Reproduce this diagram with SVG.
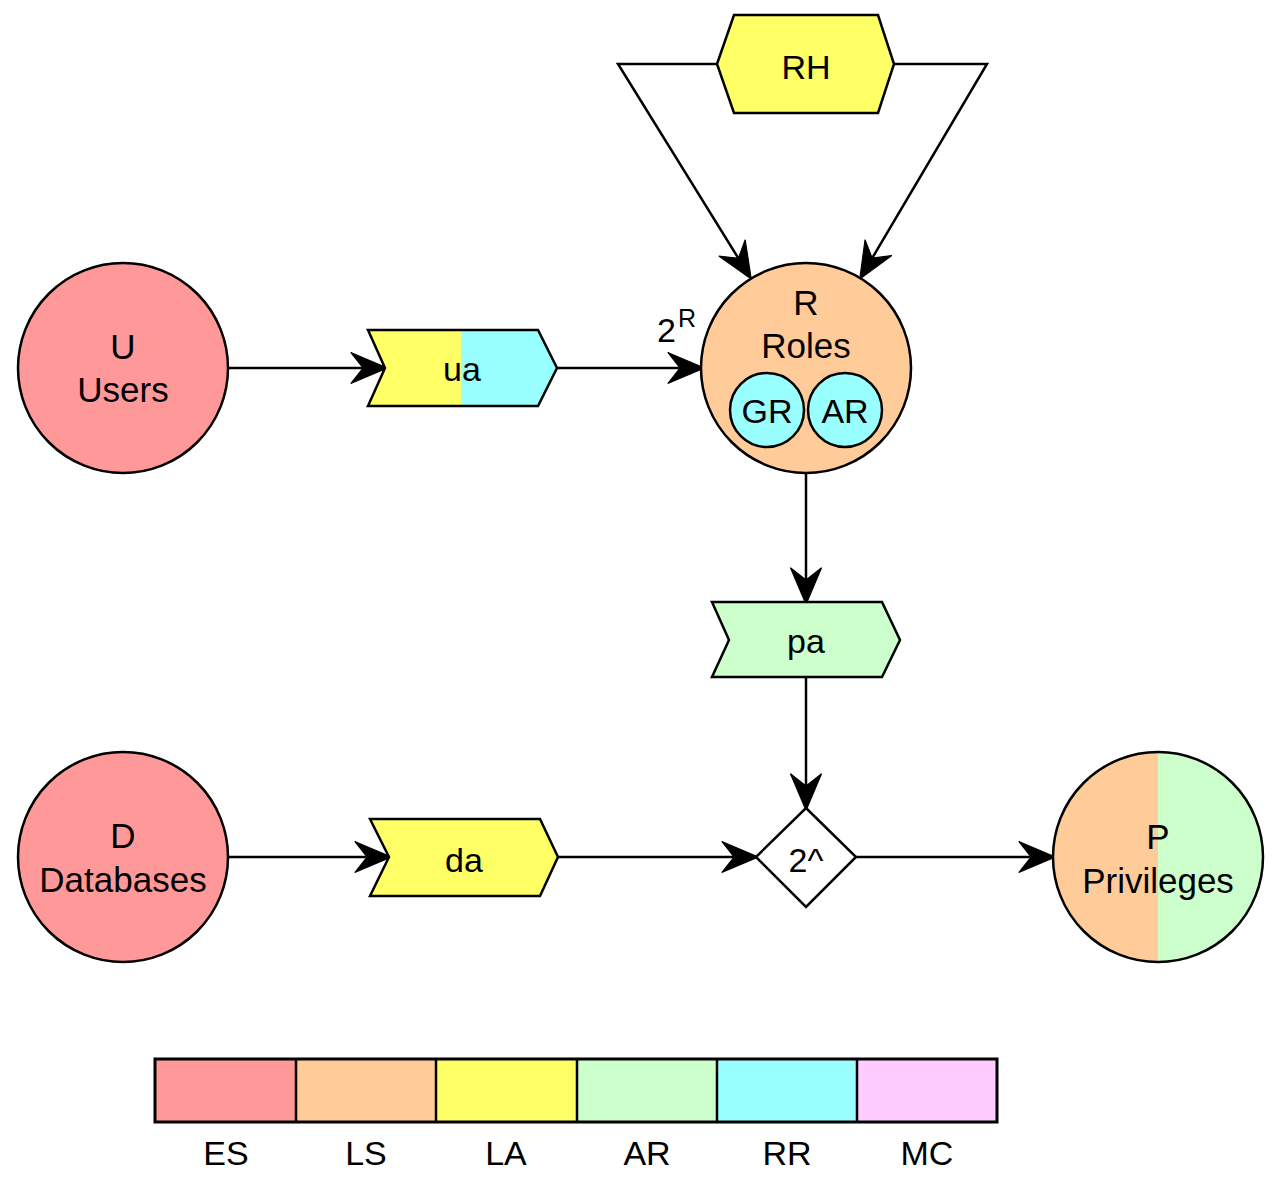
<svg xmlns="http://www.w3.org/2000/svg" width="1282" height="1196" viewBox="0 0 1282 1196">
<style>
  .t{font-family:"Liberation Sans",Arial,sans-serif;font-size:34px;fill:#000;text-anchor:middle}
  .c{font-family:"Liberation Sans",Arial,sans-serif;font-size:35px;fill:#000;text-anchor:middle}
  .s{stroke:#000;stroke-width:2.5;stroke-linejoin:miter}
  .ln{fill:none;stroke:#000;stroke-width:2.5}
</style>
<defs>
  <marker id="arr" markerUnits="userSpaceOnUse" markerWidth="40" markerHeight="40" viewBox="-12 -16 36 32" refX="0" refY="0" orient="auto" overflow="visible">
    <path d="M22,0 L-11,-14 L0,0 L-11,14 Z" fill="#000" stroke="#000" stroke-width="1"/>
  </marker>
</defs>

<g id="connectors">
  <path class="ln" d="M228,368 L363,368" marker-end="url(#arr)"/>
  <path class="ln" d="M557,368 L680,368" marker-end="url(#arr)"/>
  <path class="ln" d="M717,64 L618,64 L738.4,258.3" marker-end="url(#arr)"/>
  <path class="ln" d="M894,64 L987,64 L872.2,258.1" marker-end="url(#arr)"/>
  <path class="ln" d="M806,473 L806,580" marker-end="url(#arr)"/>
  <path class="ln" d="M806,677 L806,786" marker-end="url(#arr)"/>
  <path class="ln" d="M228,857 L367,857" marker-end="url(#arr)"/>
  <path class="ln" d="M558,857 L734,857" marker-end="url(#arr)"/>
  <path class="ln" d="M856,857 L1031,857" marker-end="url(#arr)"/>
</g>

<g id="RH">
  <polygon class="s" fill="#FFFF66" points="717,64 734,15 878,15 894,64 878,113 734,113"/>
  <text class="t" x="806" y="79">RH</text>
</g>

<g id="Users">
  <circle class="s" fill="#FF9999" cx="123" cy="368" r="105"/>
  <text class="c" x="123" y="359">U</text>
  <text class="c" x="123" y="402">Users</text>
</g>

<g id="ua">
  <polygon fill="#FFFF66" points="368,330 461,330 461,406 368,406 385,368"/>
  <polygon fill="#99FFFF" points="461,330 538,330 557,368 538,406 461,406"/>
  <polygon class="s" fill="none" points="368,330 538,330 557,368 538,406 368,406 385,368"/>
  <text class="t" x="462" y="381">ua</text>
</g>

<g id="label-2R">
  <text font-family="Liberation Sans, Arial, sans-serif" font-size="34" x="657" y="342">2</text>
  <text font-family="Liberation Sans, Arial, sans-serif" font-size="25" x="678" y="327">R</text>
</g>

<g id="Roles">
  <circle class="s" fill="#FFCC99" cx="806" cy="368" r="105"/>
  <text class="c" x="806" y="315">R</text>
  <text class="c" x="806" y="358">Roles</text>
  <g id="GR">
    <circle class="s" fill="#99FFFF" cx="767" cy="410" r="37"/>
    <text class="t" x="767" y="423">GR</text>
  </g>
  <g id="AR">
    <circle class="s" fill="#99FFFF" cx="845" cy="410" r="37"/>
    <text class="t" x="845" y="423">AR</text>
  </g>
</g>

<g id="pa">
  <polygon class="s" fill="#CCFFCC" points="712,602 882,602 900,640 882,677 712,677 729,640"/>
  <text class="t" x="806" y="653">pa</text>
</g>

<g id="Databases">
  <circle class="s" fill="#FF9999" cx="123" cy="857" r="105"/>
  <text class="c" x="123" y="848">D</text>
  <text class="c" x="123" y="892">Databases</text>
</g>

<g id="da">
  <polygon class="s" fill="#FFFF66" points="370,819 540,819 558,857 540,896 370,896 389,857"/>
  <text class="t" x="464" y="872">da</text>
</g>

<g id="power">
  <polygon class="s" fill="#FFFFFF" points="806,808 856,857 806,907 756,857"/>
  <text class="t" x="806" y="872">2^</text>
</g>

<g id="Privileges">
  <path fill="#FFCC99" d="M1158,752 A105,105 0 0,0 1158,962 Z"/>
  <path fill="#CCFFCC" d="M1158,752 A105,105 0 0,1 1158,962 Z"/>
  <circle class="s" fill="none" cx="1158" cy="857" r="105"/>
  <text class="c" x="1158" y="849">P</text>
  <text class="c" x="1158" y="893">Privileges</text>
</g>

<g id="legend">
  <rect x="155" y="1059" width="141" height="63" fill="#FF9999"/>
  <rect x="296" y="1059" width="140" height="63" fill="#FFCC99"/>
  <rect x="436" y="1059" width="141" height="63" fill="#FFFF66"/>
  <rect x="577" y="1059" width="140" height="63" fill="#CCFFCC"/>
  <rect x="717" y="1059" width="140" height="63" fill="#99FFFF"/>
  <rect x="857" y="1059" width="140" height="63" fill="#FFCCFF"/>
  <rect x="155" y="1059" width="842" height="63" fill="none" stroke="#000" stroke-width="3"/>
  <path d="M296,1059 V1122 M436,1059 V1122 M577,1059 V1122 M717,1059 V1122 M857,1059 V1122" stroke="#000" stroke-width="2.5"/>
  <text class="t" x="226" y="1165">ES</text>
  <text class="t" x="366" y="1165">LS</text>
  <text class="t" x="506" y="1165">LA</text>
  <text class="t" x="647" y="1165">AR</text>
  <text class="t" x="787" y="1165">RR</text>
  <text class="t" x="927" y="1165">MC</text>
</g>
</svg>
